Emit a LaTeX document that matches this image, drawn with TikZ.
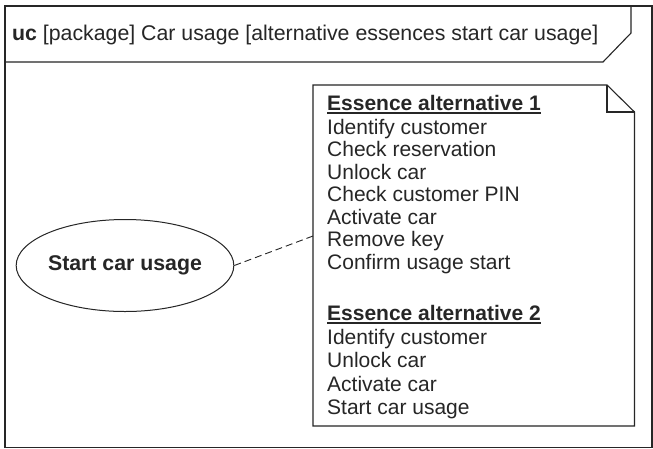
\documentclass[tikz,border=0pt]{standalone}
\usepackage{fontspec}
\setmainfont{Liberation Sans}
\usetikzlibrary{shapes.geometric}
\definecolor{ink}{HTML}{262626}
\begin{document}
\begin{tikzpicture}[x=1pt,y=-1pt,
  outline/.style={draw=ink,line width=1.1pt},
  txt/.style={anchor=base west,inner sep=0pt,text=ink,font=\fontsize{21}{25}\selectfont},
  hdr/.style={txt,font=\fontsize{21}{25}\selectfont\bfseries},
  uline/.style={draw=ink,line width=1.2pt},
  usecase/.style={ellipse,draw=ink,line width=1pt,minimum width=186pt,minimum height=92pt,inner sep=0pt,text=ink,font=\fontsize{21.3}{25}\selectfont\bfseries},
  link/.style={draw=ink,line width=0.9pt,dash pattern=on 7pt off 4pt}]
\useasboundingbox (0,0) rectangle (653,448);
\fill[white] (0,0) rectangle (653,448);
% frame
\draw[outline] (5,6) rectangle (652,447.5);
% tab
\draw[outline] (5,62) -- (603,62) -- (631,33) -- (631,6);
\node[txt,font=\fontsize{21.3}{25}\selectfont] (title) at (12,40.5) {\textbf{uc} [package] Car usage [alternative essences start car usage]};
% use case
\node[usecase] (uc) at (125,265.5) {Start car usage};
% note
\draw[outline,fill=white] (313,85) -- (607,85) -- (634.5,112) -- (634.5,426) -- (313,426) -- cycle;
\draw[outline] (607,85) -- (607,112) -- (634.5,112);
\coordinate (notein) at (313,236);
\draw[link] (uc.east) -- (notein);
% note text
\node[hdr] (e1) at (327,110) {Essence alternative 1};
\draw[uline] ([yshift=-3pt]e1.base west) -- ([yshift=-3pt]e1.base east);
\node[txt] (a1) at (327,134) {Identify customer};
\node[txt] (a2) at (327,156.5) {Check reservation};
\node[txt] (a3) at (327,179) {Unlock car};
\node[txt] (a4) at (327,201.5) {Check customer PIN};
\node[txt] (a5) at (327,224) {Activate car};
\node[txt] (a6) at (327,246.5) {Remove key};
\node[txt] (a7) at (327,269) {Confirm usage start};
\node[hdr] (e2) at (327,320) {Essence alternative 2};
\draw[uline] ([yshift=-3pt]e2.base west) -- ([yshift=-3pt]e2.base east);
\node[txt] (b1) at (327,344) {Identify customer};
\node[txt] (b2) at (327,367.5) {Unlock car};
\node[txt] (b3) at (327,391) {Activate car};
\node[txt] (b4) at (327,414.5) {Start car usage};
\end{tikzpicture}
\end{document}
